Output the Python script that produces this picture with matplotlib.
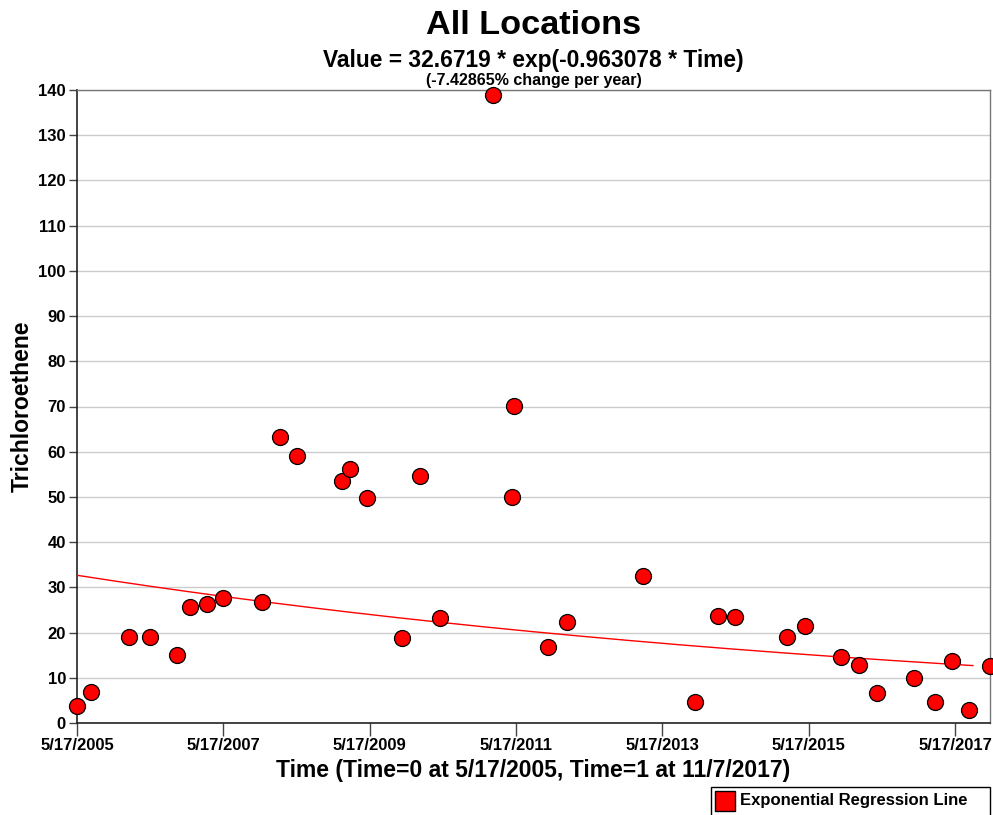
import numpy as np
import pandas as pd
import matplotlib
matplotlib.use("Agg")
import matplotlib.pyplot as plt
from matplotlib.patches import Rectangle

plt.rcParams['font.family'] = ['Liberation Sans', 'DejaVu Sans']
plt.rcParams['font.weight'] = 'bold'

# sample dates and Trichloroethene values
sample_dates = ['2005-05-17', '2005-07-27', '2006-01-30', '2006-05-17', '2006-09-28',
                '2006-12-03', '2007-02-26', '2007-05-17', '2007-11-28', '2008-02-26',
                '2008-05-17', '2008-12-28', '2009-02-08', '2009-05-02', '2009-10-27',
                '2010-01-24', '2010-05-05', '2011-01-23', '2011-04-25', '2011-05-07',
                '2011-10-24', '2012-01-28', '2013-02-10', '2013-10-28', '2014-02-20',
                '2014-05-12', '2015-01-27', '2015-04-27', '2015-10-27', '2016-01-23',
                '2016-04-23', '2016-10-22', '2017-02-05', '2017-05-02', '2017-07-26',
                '2017-11-07']
values = [3.7, 6.9, 19.0, 19.0, 15.0,
          25.6, 26.3, 27.6, 26.8, 63.3,
          59.0, 53.5, 56.2, 49.7, 18.9,
          54.6, 23.3, 139.0, 50.0, 70.1,
          16.9, 22.3, 32.6, 4.6, 23.6,
          23.5, 19.0, 21.4, 14.7, 12.8,
          6.6, 10.0, 4.6, 13.7, 2.8,
          12.5]

t0 = '2005-05-17'
t1 = '2017-11-07'
line_end = '2017-08-14'
coef_a = 32.6719
coef_b = -0.963078
pct_year = -7.42865

tick_dates = ['2005-05-17', '2007-05-17', '2009-05-17', '2011-05-17',
              '2013-05-17', '2015-05-17', '2017-05-17']
tick_labels = ['5/17/2005', '5/17/2007', '5/17/2009', '5/17/2011',
               '5/17/2013', '5/17/2015', '5/17/2017']

dates = pd.to_datetime(sample_dates)
start = pd.Timestamp(t0)
stop = pd.Timestamp(t1)

# regression curve, Time normalised 0..1 over start..stop
curve_x = pd.date_range(start, pd.Timestamp(line_end), periods=200)
tt = (curve_x - start) / (stop - start)
curve_y = coef_a * np.exp(coef_b * np.asarray(tt, dtype=float))

fig = plt.figure(figsize=(9.93, 8.15), dpi=100)
ax = fig.add_axes([77 / 993, 92 / 815, 913 / 993, 633 / 815])

ax.plot(curve_x, curve_y, color='red', lw=1, zorder=3)
ax.plot(dates, values, 'o', ms=11.5, mfc='red', mec='black', mew=0.9,
        clip_on=False, zorder=4)

ax.set_xlim(start, stop)
ax.set_ylim(0, 140)
ax.set_yticks(np.arange(0, 141, 10))
ax.set_xticks(pd.to_datetime(tick_dates))
ax.set_xticklabels(tick_labels)
ax.tick_params(axis='x', length=9, width=1, color='#444444', labelsize=12, pad=2)
ax.tick_params(axis='y', length=6, width=1, color='#444444', labelsize=12, pad=2)
for lab in ax.get_xticklabels() + ax.get_yticklabels():
    lab.set_fontweight('bold')

ax.grid(axis='y', color='#cccccc', lw=1)
ax.set_axisbelow(True)
for s in ['left', 'bottom']:
    ax.spines[s].set_color('#222222')
    ax.spines[s].set_linewidth(1.2)
for s in ['top', 'right']:
    ax.spines[s].set_color('#777777')
    ax.spines[s].set_linewidth(1)

ax.set_xlabel('Time (Time=0 at 5/17/2005, Time=1 at 11/7/2017)',
              fontsize=16.5, fontweight='bold', labelpad=4)
ax.set_ylabel('Trichloroethene', fontsize=16.5, fontweight='bold', labelpad=3)

cx = (77 + 990) / 2 / 993
fig.text(cx, 1 - 25 / 815, 'All Locations', ha='center', va='center',
         fontsize=24.7, fontweight='bold')
fig.text(cx, 1 - 60 / 815, 'Value = %g * exp(%g * Time)' % (coef_a, coef_b),
         ha='center', va='center', fontsize=16.4, fontweight='bold')
fig.text(cx, 1 - 80 / 815, '(%g%% change per year)' % pct_year,
         ha='center', va='center', fontsize=11.5, fontweight='bold')

# legend box at bottom right
fig.patches.append(Rectangle((711 / 993, -2 / 815), 279 / 993, 30 / 815,
                             transform=fig.transFigure, fc='white',
                             ec='black', lw=1))
fig.patches.append(Rectangle((715 / 993, 4 / 815), 20 / 993, 20 / 815,
                             transform=fig.transFigure, fc='red',
                             ec='black', lw=1))
fig.text(740 / 993, 14 / 815, 'Exponential Regression Line', ha='left',
         va='center', fontsize=12, fontweight='bold')

fig.savefig('out.png', dpi=100)
